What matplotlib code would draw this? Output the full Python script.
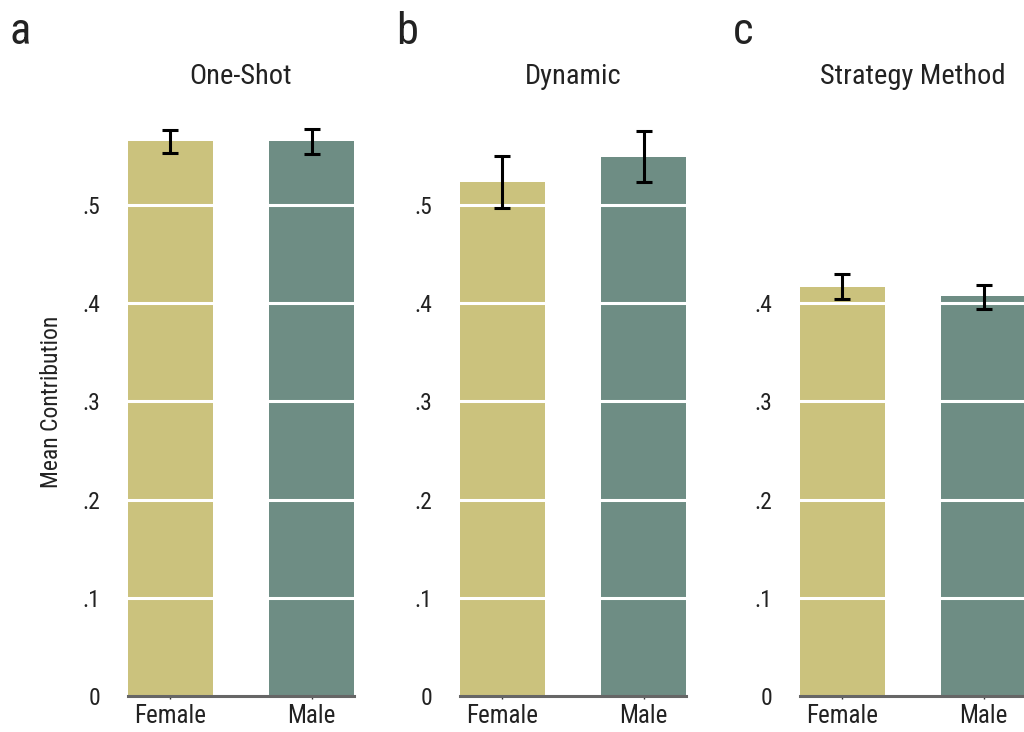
import matplotlib
matplotlib.use("Agg")
import matplotlib.pyplot as plt
from matplotlib import font_manager

installed = {f.name for f in font_manager.fontManager.ttflist}
preferred = ["Roboto Condensed", "Open Sans Condensed", "Liberation Sans Narrow",
             "Arial Narrow", "Liberation Sans"]
family = [f for f in preferred if f in installed] + ["DejaVu Sans"]
plt.rcParams['font.family'] = family

groups = ["Female", "Male"]
panels = ["One-Shot", "Dynamic", "Strategy Method"]
letters = ["a", "b", "c"]
means = [
    [0.565, 0.565],
    [0.523, 0.549],
    [0.4165, 0.407],
]
err_low = [
    [0.553, 0.552],
    [0.497, 0.523],
    [0.404, 0.394],
]
err_high = [
    [0.576, 0.577],
    [0.550, 0.575],
    [0.430, 0.419],
]
yticks = [0, 0.1, 0.2, 0.3, 0.4, 0.5]
ytick_labels = ["0", ".1", ".2", ".3", ".4", ".5"]
y_tops = [0.6, 0.6, 0.45]
bar_colors = ["#CBC27D", "#6E8D84"]

W, H = 1024, 732
fig = plt.figure(figsize=(W / 100, H / 100), dpi=100)

ax_left_px = [128, 460, 800]
letter_x_px = [10, 396, 733]
ax_width_px = 226
y0_px = 696
px_per_unit = 982

for i, ax_l in enumerate(ax_left_px):
    ymax = y_tops[i]
    ax_h_px = ymax * px_per_unit
    ax = fig.add_axes([ax_l / W, (H - y0_px) / H, ax_width_px / W, ax_h_px / H])
    x = [0, 1]
    ax.bar(x, means[i], width=0.6, color=bar_colors, zorder=1)
    for g in yticks[1:]:
        ax.axhline(g, color="white", lw=2.2, zorder=2)
    lo = [m - l for m, l in zip(means[i], err_low[i])]
    hi = [h - m for m, h in zip(means[i], err_high[i])]
    ax.errorbar(x, means[i], yerr=[lo, hi], fmt="none", ecolor="black",
                elinewidth=2.2, capsize=5.5, capthick=2.2, zorder=3)
    ax.set_xlim(-0.3, 1.3)
    ax.set_ylim(0, ymax)
    for s in ["top", "right", "left"]:
        ax.spines[s].set_visible(False)
    ax.spines["bottom"].set_color("#666666")
    ax.spines["bottom"].set_linewidth(2.2)
    ax.set_xticks(x)
    ax.set_xticklabels(groups, fontsize=18, color="#222222")
    ax.tick_params(axis="x", length=2.5, width=1, color="#333333", pad=3)
    ticks_here = [t for t in yticks if t <= ymax]
    ax.set_yticks(ticks_here)
    ax.set_yticklabels(ytick_labels[:len(ticks_here)], fontsize=17, color="#222222")
    ax.tick_params(axis="y", length=0, pad=20)
    fig.text((ax_l + ax_width_px / 2) / W, 1 - 77 / H, panels[i], fontsize=20.5,
             color="#222222", ha="center", va="center")
    fig.text(letter_x_px[i] / W, 1 - 44 / H, letters[i], fontsize=32,
             color="#222222", va="baseline", ha="left")
    if i == 0:
        ax.set_ylabel("Mean Contribution", fontsize=17, color="#222222", labelpad=14)

fig.savefig("out.png", dpi=100)
